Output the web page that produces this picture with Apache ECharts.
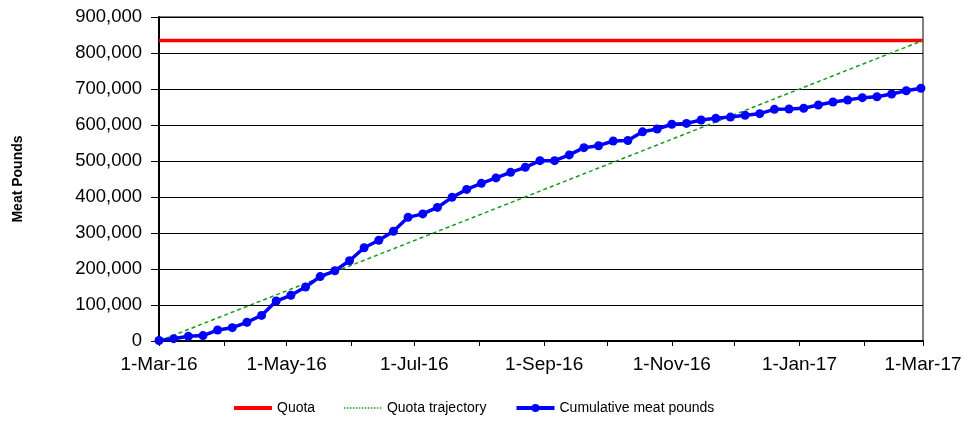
<!DOCTYPE html>
<html>
<head>
<meta charset="utf-8">
<script src="https://cdn.jsdelivr.net/npm/echarts@6/dist/echarts.min.js"></script>
<style>html,body{margin:0;padding:0;background:#fff}#c{width:964px;height:424px}</style>
</head>
<body>
<div id="c"></div>
<script>
var weekDates = ['2016-03-01','2016-03-08','2016-03-15','2016-03-22','2016-03-29','2016-04-05','2016-04-12','2016-04-19','2016-04-26','2016-05-03','2016-05-10','2016-05-17','2016-05-24','2016-05-31','2016-06-07','2016-06-14','2016-06-21','2016-06-28','2016-07-05','2016-07-12','2016-07-19','2016-07-26','2016-08-02','2016-08-09','2016-08-16','2016-08-23','2016-08-30','2016-09-06','2016-09-13','2016-09-20','2016-09-27','2016-10-04','2016-10-11','2016-10-18','2016-10-25','2016-11-01','2016-11-08','2016-11-15','2016-11-22','2016-11-29','2016-12-06','2016-12-13','2016-12-20','2016-12-27','2017-01-03','2017-01-10','2017-01-17','2017-01-24','2017-01-31','2017-02-07','2017-02-14','2017-02-21','2017-02-28'];
var cumulativePounds = [1500,6500,13000,15000,30500,37000,52000,71000,111000,127000,150000,179000,195000,223000,259000,280000,305000,343500,353000,371000,399000,421000,438000,453000,468500,482500,501000,501000,517000,537000,542500,555500,557000,581000,589000,602000,604500,614000,618500,622000,627000,631500,643500,644500,646500,655500,664000,669500,676000,678500,686000,695000,702000];
var quotaDates = ['2016-03-01','2017-03-01'];
var quotaValues = [835000,835000];
var trajectoryDates = ['2016-03-01','2017-03-01'];
var trajectoryValues = [0,835000];
var monthTickDates = ['2016-03-01','2016-04-01','2016-05-01','2016-06-01','2016-07-01','2016-08-01','2016-09-01','2016-10-01','2016-11-01','2016-12-01','2017-01-01','2017-02-01','2017-03-01'];
var labelDates = ['2016-03-01','2016-05-01','2016-07-01','2016-09-01','2016-11-01','2017-01-01','2017-03-01'];
var labelTexts = ['1-Mar-16','1-May-16','1-Jul-16','1-Sep-16','1-Nov-16','1-Jan-17','1-Mar-17'];

function ts(s){var p=s.split('-');return Date.UTC(+p[0],+p[1]-1,+p[2]);}
function pairs(d,v){return d.map(function(x,i){return [ts(x),v[i]];});}
var labelTs = labelDates.map(ts);

var chart = echarts.init(document.getElementById('c'));
chart.setOption({
  animation:false,
  textStyle:{fontFamily:'Arial, "Liberation Sans", sans-serif'},
  grid:{left:159,right:41,top:17,bottom:83,show:true,borderColor:'#000',borderWidth:1,
    containLabel:false,outerBoundsMode:'none'},
  legend:{
    left:227, top:396, itemWidth:38, itemHeight:10, itemGap:28,
    textStyle:{fontSize:14,color:'#000',fontFamily:'Arial, "Liberation Sans", sans-serif'},
    data:[
      {name:'Quota',itemStyle:{opacity:0},lineStyle:{width:4}},
      {name:'Quota trajectory',itemStyle:{opacity:0},lineStyle:{width:1.5,type:'dotted'}},
      {name:'Cumulative meat pounds',lineStyle:{width:4}}
    ]
  },
  xAxis:{
    type:'value', min:ts('2016-03-01'), max:ts('2017-03-01'),
    axisLine:{lineStyle:{color:'#000',width:2}},
    axisTick:{show:true,length:5,lineStyle:{color:'#000'},customValues:monthTickDates.map(ts)},
    axisLabel:{customValues:labelTs,fontSize:19,color:'#000',margin:14,
      formatter:function(v){var i=labelTs.indexOf(v);return i>=0?labelTexts[i]:'';}},
    splitLine:{show:false}
  },
  yAxis:{
    type:'value', min:0, max:900000, interval:100000,
    name:'Meat Pounds', nameLocation:'middle', nameGap:134, nameRotate:90,
    nameTextStyle:{fontSize:14,fontWeight:'bold',color:'#000'},
    axisLine:{show:true,lineStyle:{color:'#000',width:2}},
    axisTick:{show:true,length:8,lineStyle:{color:'#000'}},
    axisLabel:{fontSize:18.5,color:'#000',margin:17,
      formatter:function(v){return v.toLocaleString('en-US');}},
    splitLine:{lineStyle:{color:'#000',width:1}}
  },
  series:[
    {name:'Quota',type:'line',data:pairs(quotaDates,quotaValues),symbol:'none',
      lineStyle:{color:'#ff0000',width:3.5},itemStyle:{color:'#ff0000'}},
    {name:'Quota trajectory',type:'line',data:pairs(trajectoryDates,trajectoryValues),symbol:'none',
      lineStyle:{color:'#1a9a1a',width:1.5,type:[4,3]},itemStyle:{color:'#1a9a1a'}},
    {name:'Cumulative meat pounds',type:'line',data:pairs(weekDates,cumulativePounds),
      symbol:'circle',symbolSize:9,
      lineStyle:{color:'#0000ff',width:3.5},itemStyle:{color:'#0000ff'}}
  ]
});
</script>
</body>
</html>
